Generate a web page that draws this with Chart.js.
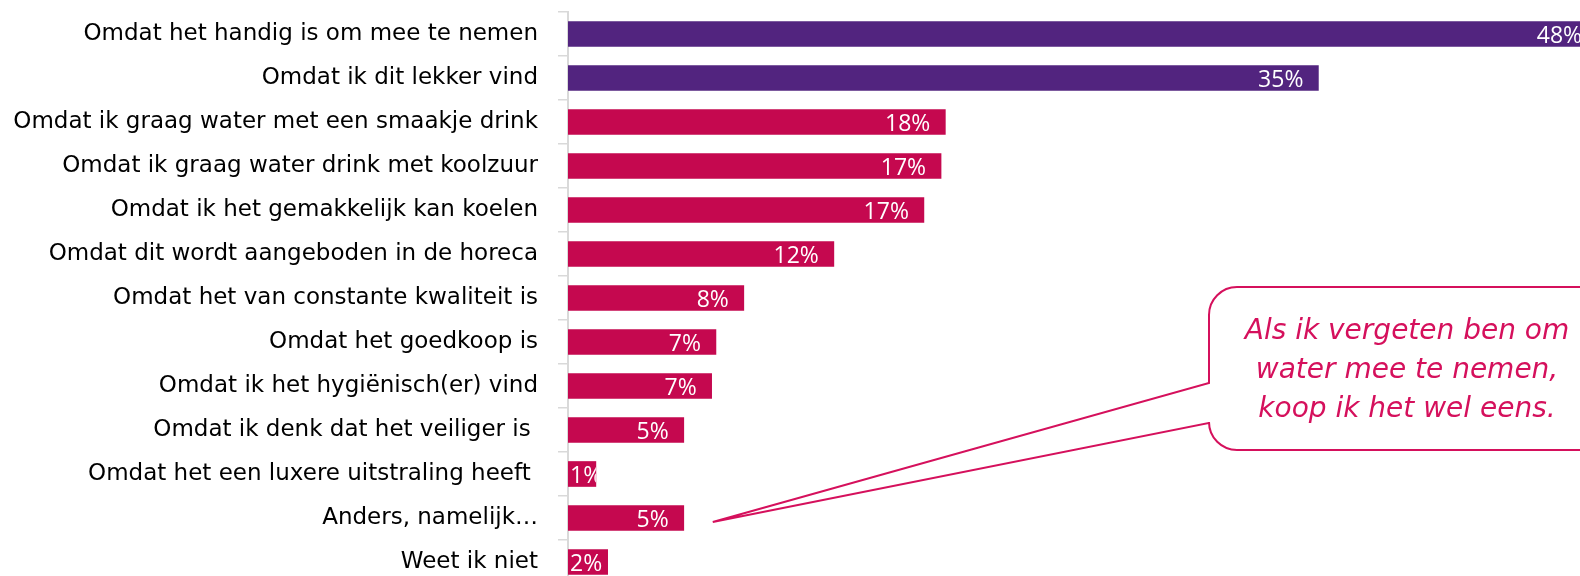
<!DOCTYPE html>
<html>
<head>
<meta charset="utf-8">
<script src="https://cdn.jsdelivr.net/npm/chart.js@4.4.1/dist/chart.umd.min.js"></script>
<style>
  html, body { margin: 0; padding: 0; background: #fff; overflow: hidden; }
  #wrap { position: absolute; left: 0; top: 0; width: 1640px; height: 590px; }
  canvas { display: block; }
</style>
</head>
<body>
<div id="wrap"><canvas id="c" width="1640" height="590"></canvas></div>
<script>
const categories = [
  "Omdat het handig is om mee te nemen",
  "Omdat ik dit lekker vind",
  "Omdat ik graag water met een smaakje drink",
  "Omdat ik graag water drink met koolzuur",
  "Omdat ik het gemakkelijk kan koelen",
  "Omdat dit wordt aangeboden in de horeca",
  "Omdat het van constante kwaliteit is",
  "Omdat het goedkoop is",
  "Omdat ik het hygiënisch(er) vind",
  "Omdat ik denk dat het veiliger is ",
  "Omdat het een luxere uitstraling heeft ",
  "Anders, namelijk…",
  "Weet ik niet"
];
const values = [48.0, 35.0, 17.6, 17.4, 16.6, 12.4, 8.2, 6.9, 6.7, 5.4, 1.3, 5.4, 1.85];
const highlightCount = 2;
const calloutLines = ["Als ik vergeten ben om", "water mee te nemen,", "koop ik het wel eens."];
const calloutIndex = 11;

const PURPLE = '#52247F';
const CRIMSON = '#C5084F';
const PINK = '#D5105C';

const valueLabels = {
  id: 'valueLabels',
  afterDatasetsDraw(chart) {
    const ctx = chart.ctx;
    const meta = chart.getDatasetMeta(0);
    ctx.save();
    ctx.font = '23px "Open Sans"';
    ctx.fillStyle = '#ffffff';
    ctx.textBaseline = 'alphabetic';
    ctx.textAlign = 'left';
    meta.data.forEach((bar, i) => {
      const txt = Math.round(values[i]) + '%';
      const w = ctx.measureText(txt).width;
      let left = bar.x - 15 - w;
      if (left < bar.base + 2) left = bar.base + 2;
      ctx.save();
      ctx.beginPath();
      ctx.rect(bar.base, bar.y - bar.height / 2, bar.x - bar.base, bar.height);
      ctx.clip();
      ctx.fillText(txt, left, bar.y + 8.5);
      ctx.restore();
    });
    ctx.restore();
  }
};

const callout = {
  id: 'callout',
  afterDraw(chart) {
    const ctx = chart.ctx;
    const bar = chart.getDatasetMeta(0).data[calloutIndex];
    const tipX = bar.x + 29, tipY = bar.y + 4;
    const L = 1209, T = 287, B = 450, R = 1700, r = 28;
    ctx.save();
    ctx.beginPath();
    ctx.moveTo(R, T);
    ctx.lineTo(L + r, T);
    ctx.arcTo(L, T, L, T + r, r);
    ctx.lineTo(L, 383);
    ctx.lineTo(tipX, tipY);
    ctx.lineTo(L, 423);
    ctx.lineTo(L, B - r);
    ctx.arcTo(L, B, L + r, B, r);
    ctx.lineTo(R, B);
    ctx.fillStyle = '#ffffff';
    ctx.fill();
    ctx.strokeStyle = PINK;
    ctx.lineWidth = 2;
    ctx.lineJoin = 'miter';
    ctx.stroke();
    ctx.fillStyle = PINK;
    ctx.font = 'italic 28px "DejaVu Sans"';
    ctx.textAlign = 'center';
    ctx.textBaseline = 'alphabetic';
    calloutLines.forEach((line, k) => {
      ctx.fillText(line, 1407, 339 + k * 39);
    });
    ctx.restore();
  }
};

new Chart(document.getElementById('c'), {
  type: 'bar',
  data: {
    labels: categories,
    datasets: [{
      data: values,
      backgroundColor: (c) => c.dataIndex < highlightCount ? PURPLE : CRIMSON,
      borderWidth: 0,
      barThickness: 25
    }]
  },
  options: {
    indexAxis: 'y',
    responsive: false,
    animation: false,
    layout: { padding: { top: 12, bottom: 6, left: 0, right: 0 } },
    plugins: { legend: { display: false }, tooltip: { enabled: false } },
    scales: {
      x: { type: 'linear', min: 0, max: 50, display: false },
      y: {
        type: 'category',
        grid: { display: true, drawOnChartArea: false, drawTicks: true, tickLength: 10, color: '#d9d9d9', lineWidth: 1.5, offset: true },
        border: { display: true, color: '#d9d9d9', width: 2 },
        ticks: { color: '#000000', font: { family: '"DejaVu Sans"', size: 23 }, padding: 20, autoSkip: false },
        afterFit(scale) { scale.width = 568; scale.paddingTop = 0; scale.paddingBottom = 0; }
      }
    }
  },
  plugins: [valueLabels, callout]
});
</script>
</body>
</html>
